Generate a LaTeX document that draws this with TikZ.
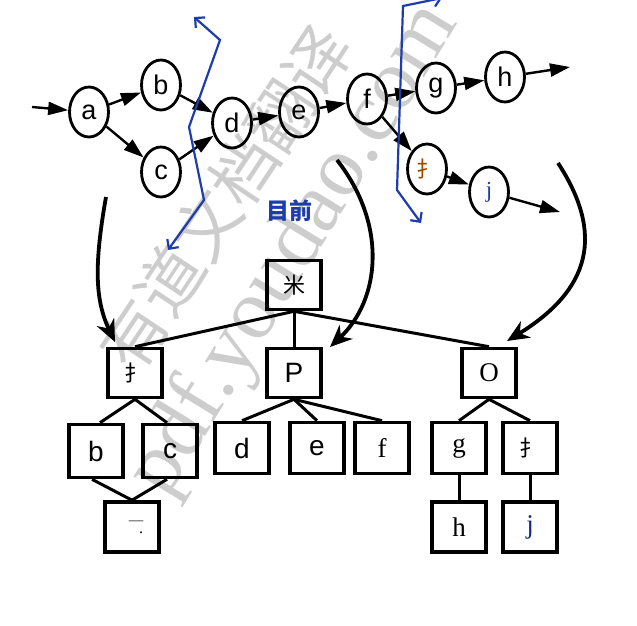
\documentclass[tikz,border=0pt]{standalone}
\usepackage{fontspec}
\setmainfont{Liberation Serif}
\setsansfont{Liberation Sans}
\newfontfamily\cjk{Noto Sans CJK SC}
\usetikzlibrary{shapes.geometric,arrows.meta}
\definecolor{cutblue}{RGB}{30,60,170}
\definecolor{wmgray}{RGB}{205,205,205}
\begin{document}
\begin{tikzpicture}[x=1pt,y=-1pt,
  st/.style={ellipse, draw, line width=2.8pt, minimum width=39pt, minimum height=50pt, inner sep=0pt, font=\sffamily\fontsize{27}{27}\selectfont},
  ar/.style={line width=2.4pt, -{Triangle[length=20pt,width=13pt]}},
  bx/.style={rectangle, draw, line width=3.6pt, minimum width=54pt, minimum height=49pt, inner sep=0pt},
  sf/.style={font=\sffamily\fontsize{28}{28}\selectfont},
  rm/.style={font=\rmfamily\fontsize{27}{27}\selectfont},
  tl/.style={line width=3pt},
  cut/.style={cutblue, line width=2.2pt, {Straight Barb[length=7pt,width=14pt]}-{Straight Barb[length=7pt,width=14pt]}},
  big/.style={line width=3.8pt, -{Stealth[length=22pt,width=19pt,inset=7pt]}}
]
\clip (0,0) rectangle (637,626);
\useasboundingbox (0,0) rectangle (637,626);
% watermark
\node[rotate=56.4, text=wmgray, font=\cjk\fontsize{66}{66}\selectfont, inner sep=0pt] (wm1) at (225,198) {有道文档翻译};
\node[rotate=58.5, text=wmgray, font=\rmfamily\fontsize{86}{86}\selectfont, inner sep=0pt] (wm2) at (295,250) {pdf.youdao.com};

% top graph
\node[st] (a) at (89,112) {a};
\node[st] (b) at (161,85) {b};
\node[st] (c) at (161,172) {c};
\node[st] (d) at (232,123) {d};
\node[st] (e) at (299,112) {e};
\node[st] (f) at (367,99) {f};
\node[st] (g) at (436,88) {g};
\node[st] (h) at (505,77) {h};
\node[st, font=\cjk\fontsize{22}{22}\selectfont] (i) at (427,169) {\textcolor{orange!60!black}{扌}};
\node[st, font=\rmfamily\fontsize{23}{23}\selectfont] (j) at (489,192) {\textcolor{cutblue}{j}};
\coordinate (in) at (32,107);
\coordinate (hout) at (570,67);
\coordinate (jout) at (560,212);

\draw[ar] (in) -- (a);
\draw[ar] (a) -- (b);
\draw[ar] (a) -- (c);
\draw[ar] (b) -- (d);
\draw[ar] (c) -- (d);
\draw[ar] (d) -- (e);
\draw[ar] (e) -- (f);
\draw[ar] (f) -- (g);
\draw[ar] (g) -- (h);
\draw[ar] (h) -- (hout);
\draw[ar] (f) -- (i);
\draw[ar] (i) -- (j);
\draw[ar] (j) -- (jout);

% cut lines
\coordinate (c1a) at (194,17);
\coordinate (c1b) at (168,250);
\draw[cut] (c1a) -- (220,40) -- (189,127) -- (204,200) -- (c1b);
\coordinate (c2a) at (442,-2);
\coordinate (c2b) at (421,223);
\draw[cut] (c2a) -- (403,6) -- (397,190) -- (c2b);

\node[text=cutblue, font=\cjk\bfseries\fontsize{23}{23}\selectfont] (cur) at (289,211) {目前};

% tree
\node[bx, font=\cjk\fontsize{22}{22}\selectfont] (root) at (294,285) {米};
\node[bx, font=\cjk\fontsize{22}{22}\selectfont] (ti) at (135,373) {扌};
\node[bx, sf] (tp) at (294,373) {P};
\node[bx, rm] (to) at (489,373) {O};
\node[bx, sf, minimum height=53pt] (tb) at (96,451) {b};
\node[bx, sf, minimum height=53pt] (tc) at (170,451) {c};
\node[bx, align=center, minimum height=50pt, font=\fontsize{16}{16}\selectfont] (tone) at (132,527) {\hspace*{8pt}\textcolor{gray}{\cjk 一}\\[-10pt]\hspace*{18pt}.};
\node[bx, sf, minimum height=51pt] (td) at (242,448) {d};
\node[bx, sf, minimum height=51pt] (te) at (317,448) {e};
\node[bx, rm, minimum height=51pt] (tf) at (382,448) {f};
\node[bx, rm, minimum height=51pt] (tg) at (459,448) {g};
\node[bx, font=\cjk\fontsize{22}{22}\selectfont, minimum height=51pt] (ti2) at (530,448) {扌};
\node[bx, rm, minimum height=50pt] (th) at (459,527) {h};
\node[bx, rm, minimum height=50pt] (tj) at (530,527) {\textcolor{cutblue!70!black}{j}};

\draw[tl] (root.south) -- (ti.north);
\draw[tl] (root.south) -- (tp.north);
\draw[tl] (root.south) -- (to.north);
\draw[tl] (ti.south) -- ([xshift=4pt]tb.north);
\draw[tl] (ti.south) -- ([xshift=-3pt]tc.north);
\draw[tl] ([xshift=-4pt]tb.south) -- (tone.north);
\draw[tl] ([xshift=-3pt]tc.south) -- (tone.north);
\draw[tl] (tp.south) -- (td.north);
\draw[tl] (tp.south) -- (te.north);
\draw[tl] (tp.south) -- (tf.north);
\draw[tl] (to.south) -- (tg.north);
\draw[tl] (to.south) -- (ti2.north);
\draw[tl] (tg.south) -- (th.north);
\draw[tl] (ti2.south) -- (tj.north);

% mapping arrows
\coordinate (m1s) at (106,197);
\coordinate (m1e) at (115,342);
\coordinate (m2s) at (337,160);
\coordinate (m2e) at (330,347);
\coordinate (m3s) at (558,163);
\coordinate (m3e) at (507,341);
\draw[big] (m1s) .. controls (94,265) and (95,300) .. (m1e);
\draw[big] (m2s) .. controls (388,225) and (380,300) .. (m2e);
\draw[big] (m3s) .. controls (605,235) and (590,290) .. (m3e);
\end{tikzpicture}
\end{document}
